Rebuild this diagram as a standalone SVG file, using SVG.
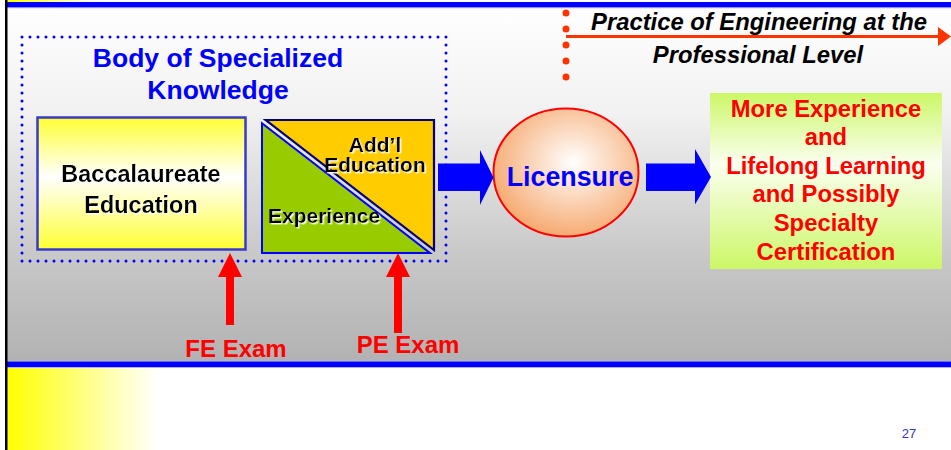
<svg xmlns="http://www.w3.org/2000/svg" width="951" height="450" viewBox="0 0 951 450">
<defs>
<linearGradient id="panel" x1="0" y1="0" x2="0" y2="1">
<stop offset="0" stop-color="#ffffff"/>
<stop offset="0.3" stop-color="#f1f1f1"/>
<stop offset="0.7" stop-color="#c8c8c8"/>
<stop offset="1" stop-color="#b2b2b2"/>
</linearGradient>
<linearGradient id="yel" x1="0" y1="0" x2="1" y2="0">
<stop offset="0" stop-color="#ffff00"/>
<stop offset="1" stop-color="#ffffff"/>
</linearGradient>
<linearGradient id="bacc" x1="0" y1="0" x2="0" y2="1">
<stop offset="0" stop-color="#ffff33"/>
<stop offset="0.45" stop-color="#ffffff"/>
<stop offset="1" stop-color="#ffff33"/>
</linearGradient>
<linearGradient id="lime" x1="0" y1="0" x2="0" y2="1">
<stop offset="0" stop-color="#ccf766"/>
<stop offset="0.4" stop-color="#fbfff0"/>
<stop offset="1" stop-color="#ccf766"/>
</linearGradient>
<radialGradient id="peach" cx="0.55" cy="0.42" r="0.6">
<stop offset="0" stop-color="#ffffff"/>
<stop offset="1" stop-color="#f6a86e"/>
</radialGradient>
<filter id="sh" x="-10%" y="-10%" width="120%" height="130%">
<feDropShadow dx="1.5" dy="1.5" stdDeviation="0" flood-color="#ffffff" flood-opacity="0.9"/>
</filter>
<style>
.t{font-family:"Liberation Sans",Arial,sans-serif;font-weight:bold;text-anchor:middle}
.blue{fill:#0000ff}
.blk{fill:#000000}
.red{fill:#ff0000}
.barrow{fill:#0000ff}
.rarrow{fill:#ff0000}
</style>
</defs>

<!-- background -->
<rect x="0" y="0" width="951" height="450" fill="#ffffff"/>
<rect x="7" y="0" width="90" height="2" fill="url(#yel)"/>
<rect x="7" y="2" width="944" height="5.5" fill="#0000ff"/>
<rect x="7" y="7.5" width="944" height="1" fill="#a0a0ff"/>
<rect x="7" y="8.5" width="944" height="353" fill="url(#panel)"/>
<rect x="7" y="361.5" width="944" height="5.5" fill="#0000ff"/>
<rect x="7" y="367" width="944" height="1" fill="#b0b0ff"/>
<rect x="7" y="368" width="150" height="82" fill="url(#yel)"/>
<rect x="5" y="0" width="2.5" height="450" fill="#000000"/>

<!-- nodes -->
<g id="body-of-knowledge">
<rect x="22" y="37" width="424" height="224" fill="none" stroke="#0000ff" stroke-width="3" stroke-dasharray="0 8" stroke-linecap="round"/>
<text class="t blue" x="218" y="67" font-size="26.5">Body of Specialized</text>
<text class="t blue" x="218" y="99" font-size="26.5">Knowledge</text>
</g>

<g id="baccalaureate">
<rect x="37.5" y="117.5" width="208" height="132" fill="url(#bacc)" stroke="#3a3ac8" stroke-width="2.5"/>
<text class="t blk" x="141" y="182" font-size="23.5" filter="url(#sh)">Baccalaureate</text>
<text class="t blk" x="141" y="213" font-size="23.5" filter="url(#sh)">Education</text>
</g>

<g id="experience-education">
<polygon points="262,123.3 262,253 430,253" fill="#99cc00" stroke="#0000ff" stroke-width="2"/>
<polygon points="265.8,120 434,120 434,250" fill="#ffcc00" stroke="#000080" stroke-width="2.2"/>
<text class="t blk" x="375" y="152" font-size="21" filter="url(#sh)">Add’l</text>
<text class="t blk" x="375" y="172" font-size="21" filter="url(#sh)">Education</text>
<text class="t blk" x="268" y="223" font-size="21" style="text-anchor:start" filter="url(#sh)">Experience</text>
</g>

<g id="licensure">
<ellipse cx="566" cy="172.5" rx="72.5" ry="64" fill="url(#peach)" stroke="#ff0000" stroke-width="2"/>
<text class="t blue" x="570" y="186" font-size="26.8">Licensure</text>
</g>

<g id="more-experience">
<rect x="710" y="93" width="232" height="176" fill="url(#lime)"/>
<text class="t red" x="826" y="117" font-size="23.8">More Experience</text>
<text class="t red" x="826" y="145" font-size="23.8">and</text>
<text class="t red" x="826" y="173.5" font-size="23.8">Lifelong Learning</text>
<text class="t red" x="826" y="202" font-size="23.8">and Possibly</text>
<text class="t red" x="826" y="231" font-size="23.8">Specialty</text>
<text class="t red" x="826" y="260" font-size="23.8">Certification</text>
</g>

<g id="practice-label">
<text class="t blk" x="759" y="30" font-size="23.8" font-style="italic">Practice of Engineering at the</text>
<text class="t blk" x="758" y="63" font-size="23.8" font-style="italic">Professional Level</text>
</g>

<g id="fe-exam">
<text class="t red" x="236" y="357" font-size="24">FE Exam</text>
</g>
<g id="pe-exam">
<text class="t red" x="408" y="353" font-size="24">PE Exam</text>
</g>

<g id="page-number">
<text x="909" y="438" font-family="Liberation Sans, Arial, sans-serif" font-size="13" fill="#3333cc" text-anchor="middle">27</text>
</g>

<!-- connectors -->
<g id="connectors">
<polygon class="barrow" points="438,163.5 480,163.5 480,150 493.5,177.5 480,205 480,191 438,191"/>
<polygon class="barrow" points="646,163.5 695,163.5 695,149 711,177 695,204.5 695,191 646,191"/>
<polygon class="rarrow" points="230,253 242,277 234,277 234,325 226,325 226,277 218,277"/>
<polygon class="rarrow" points="398,253 410,277 402,277 402,333 394,333 394,277 386,277"/>
<line x1="566" y1="13" x2="566" y2="78" stroke="#ff3300" stroke-width="7" stroke-dasharray="0 16" stroke-linecap="round"/>
<line x1="566" y1="36.5" x2="940" y2="36.5" stroke="#ff3300" stroke-width="3"/>
<polygon points="938,27 951,36.5 938,46" fill="#ff3300"/>
</g>
</svg>
